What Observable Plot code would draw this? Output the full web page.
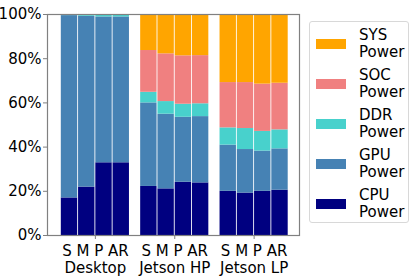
<!DOCTYPE html>
<html><head><meta charset="utf-8">
<script src="https://cdn.jsdelivr.net/npm/d3@7"></script>
<script src="https://cdn.jsdelivr.net/npm/@observablehq/plot@0.6"></script>
<style>
body{margin:0;background:#fff;font-family:"DejaVu Sans",sans-serif;}
#wrap{position:relative;width:415px;height:277px;}
#legend{position:absolute;left:309px;top:21px;width:100px;height:202px;border:1px solid #d8d8d8;border-radius:3px;box-sizing:border-box;}
.item{position:absolute;left:0;width:100%;}
.sw{position:absolute;left:6px;width:30px;height:10px;}
.lb{position:absolute;left:49px;font-size:15px;line-height:16.5px;color:#000;}
</style></head>
<body><div id="wrap"><div id="legend"></div></div>
<script>
const groups = ["Desktop", "Jetson HP", "Jetson LP"];
const subs = ["S", "M", "P", "AR"];
const series = ["CPU Power", "GPU Power", "DDR Power", "SOC Power", "SYS Power"];
const colors = ["#000080", "#4682b4", "#48d1cc", "#f08080", "#ffa500"];
// values per bar in order Desktop S,M,P,AR, Jetson HP S,M,P,AR, Jetson LP S,M,P,AR (percent)
const cpu = [17.0, 21.9, 32.9, 32.9, 22.2, 21.1, 24.1, 23.8, 20.0, 19.2, 20.0, 20.5];
const gpu = [82.5, 77.3, 66.0, 66.0, 37.8, 33.8, 29.4, 30.0, 20.9, 19.7, 18.2, 18.7];
const ddr = [0.5, 0.8, 1.1, 1.1, 4.8, 5.7, 5.9, 5.8, 7.8, 9.5, 8.9, 8.6];
const soc = [0, 0, 0, 0, 18.9, 21.6, 21.9, 21.8, 20.5, 20.8, 21.4, 21.1];
const sys = [0, 0, 0, 0, 16.3, 17.8, 18.7, 18.6, 30.8, 30.8, 31.5, 31.1];
const yTicks = [0, 20, 40, 60, 80, 100];

const vals = [cpu, gpu, ddr, soc, sys];
const groupStep = 4.6, barW = 0.95;
const rows = [];
groups.forEach((g, gi) => subs.forEach((s, si) => {
  const k = gi * 4 + si;
  const pos = gi * groupStep + si;
  let acc = 0;
  series.forEach((name, j) => {
    const v = vals[j][k];
    rows.push({group: g, sub: s, series: name, x1: pos - barW / 2, x2: pos + barW / 2, y1: acc, y2: acc + v});
    acc += v;
  });
}));
const groupCenters = groups.map((g, gi) => gi * groupStep + 1.5);
const labelOf = new Map(groupCenters.map((c, gi) => [c, subs.join(" ") + "\n" + groups[gi]]));

const chart = Plot.plot({
  width: 415, height: 277,
  marginLeft: 47, marginRight: 116, marginTop: 14, marginBottom: 42,
  style: {fontFamily: "DejaVu Sans, sans-serif", fontSize: "15px", color: "#000", background: "#fff"},
  x: {domain: [-1.275, 13.33], ticks: groupCenters, tickFormat: d => labelOf.get(d), tickSize: 4, tickPadding: 5, label: null},
  y: {domain: [0, 100], ticks: yTicks, tickFormat: d => d + "%", tickSize: 4, tickPadding: 2, label: null},
  color: {domain: series, range: colors},
  marks: [
    Plot.rect(rows, {x1: "x1", x2: "x2", y1: "y1", y2: "y2", fill: "series"}),
    Plot.axisX({ticks: groupCenters, tickFormat: d => labelOf.get(d), tickSize: 4, tickPadding: 5, stroke: "#808080", lineHeight: 1.1, fontSize: 15}),
    Plot.axisY({ticks: yTicks, tickFormat: d => d + "%", tickSize: 4, tickPadding: 2, stroke: "#808080", fontSize: 15}),
    Plot.frame({stroke: "#808080", strokeWidth: 1.2})
  ]
});
document.getElementById("wrap").prepend(chart);

const legend = document.getElementById("legend");
series.slice().reverse().forEach((name, i) => {
  const c = colors[series.length - 1 - i];
  const item = document.createElement("div");
  item.className = "item";
  item.style.top = (5 + i * 40) + "px";
  const parts = name.split(" ");
  item.innerHTML = `<div class="sw" style="top:12px;background:${c}"></div><div class="lb" style="top:0">${parts[0]}<br>${parts[1]}</div>`;
  legend.appendChild(item);
});
</script></body></html>
